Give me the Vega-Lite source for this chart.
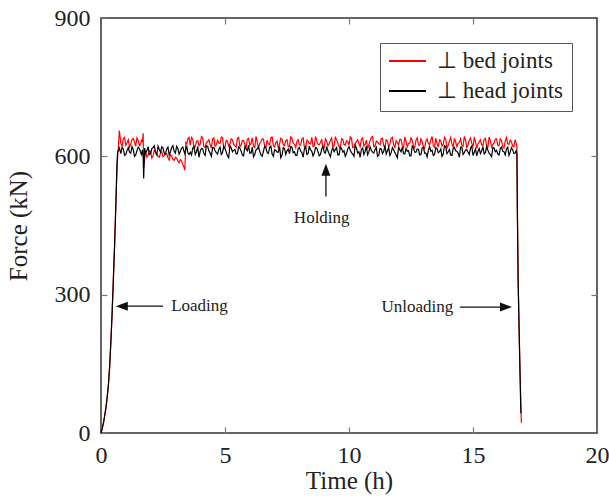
{
"$schema":"https://vega.github.io/schema/vega-lite/v6.json",
"width":496,"height":415,
"autosize":{"type":"none"},
"padding":{"left":101,"top":18,"right":12,"bottom":71},
"background":"white",
"config":{
 "font":"Liberation Serif",
 "view":{"stroke":"#333","strokeWidth":1.5},
 "axis":{"domain":false,"grid":false,"tickSize":-6,"tickColor":"#777","tickWidth":1.2,"labelFontSize":24,"labelColor":"#222","titleFontSize":25,"titleFontWeight":"normal","titleColor":"#222","labelFlush":false,"labelFont":"Liberation Serif","titleFont":"Liberation Serif"}
},
"resolve":{"axis":{"x":"independent","y":"independent"}},
"layer":[
{
 "data":{"values":[
{"t":0,"bed":0,"head":0},{"t":0.05,"bed":10,"head":10},{"t":0.1,"bed":22,"head":22},{"t":0.15,"bed":38,"head":38},{"t":0.2,"bed":55,"head":55},{"t":0.25,"bed":78,"head":78},{"t":0.3,"bed":105,"head":105},{"t":0.35,"bed":145,"head":145},{"t":0.4,"bed":200,"head":200},{"t":0.45,"bed":262,"head":262},{"t":0.5,"bed":335,"head":335},{"t":0.55,"bed":410,"head":410},{"t":0.6,"bed":500,"head":495},{"t":0.64,"bed":560,"head":580},{"t":0.67,"bed":600,"head":610},
{"t":0.7,"bed":620,"head":612},{"t":0.74,"bed":656,"head":618},{"t":0.8,"bed":628,"head":606},{"t":0.9,"bed":638,"head":616},{"t":1.0,"bed":624,"head":604},{"t":1.1,"bed":636,"head":619},{"t":1.2,"bed":626,"head":607},{"t":1.3,"bed":639,"head":615},{"t":1.4,"bed":622,"head":603},{"t":1.5,"bed":634,"head":620},{"t":1.6,"bed":627,"head":608},{"t":1.67,"bed":632,"head":614},{"t":1.7,"bed":650,"head":600},{"t":1.72,"bed":576,"head":552},{"t":1.76,"bed":596,"head":618},{"t":1.8,"bed":612,"head":607},
{"t":1.9,"bed":603,"head":621},{"t":2.0,"bed":610,"head":606},{"t":2.1,"bed":601,"head":619},{"t":2.2,"bed":609,"head":608},{"t":2.3,"bed":600,"head":622},{"t":2.4,"bed":607,"head":609},{"t":2.5,"bed":599,"head":618},{"t":2.6,"bed":606,"head":605},{"t":2.7,"bed":597,"head":620},{"t":2.8,"bed":603,"head":610},{"t":2.9,"bed":594,"head":623},{"t":3.0,"bed":598,"head":607},{"t":3.1,"bed":590,"head":617},{"t":3.2,"bed":593,"head":611},{"t":3.3,"bed":582,"head":620},{"t":3.38,"bed":570,"head":606},{"t":3.42,"bed":630,"head":616},{"t":3.5,"bed":638,"head":608},
{"t":0.85,"bed":622,"head":619},{"t":0.95,"bed":641,"head":602},{"t":1.05,"bed":629,"head":613},{"t":1.15,"bed":620,"head":609},{"t":1.25,"bed":637,"head":621},{"t":1.35,"bed":631,"head":600},{"t":1.45,"bed":640,"head":612},{"t":1.55,"bed":623,"head":617},{"t":1.63,"bed":635,"head":604},
{"t":1.85,"bed":598,"head":612},{"t":1.95,"bed":612,"head":604},{"t":2.05,"bed":596,"head":617},{"t":2.15,"bed":613,"head":623},{"t":2.25,"bed":604,"head":603},{"t":2.35,"bed":598,"head":615},{"t":2.45,"bed":610,"head":621},{"t":2.55,"bed":602,"head":607},{"t":2.65,"bed":606,"head":616},{"t":2.75,"bed":592,"head":603},{"t":2.85,"bed":600,"head":619},{"t":2.95,"bed":591,"head":611},{"t":3.05,"bed":596,"head":622},{"t":3.15,"bed":586,"head":605},{"t":3.25,"bed":590,"head":618},{"t":3.34,"bed":577,"head":612},{"t":3.46,"bed":627,"head":621},{"t":3.55,"bed":641,"head":604},
{"t":3.6,"bed":624,"head":609},{"t":3.7,"bed":637,"head":618},{"t":3.8,"bed":621,"head":604},{"t":3.9,"bed":634,"head":621},{"t":4.0,"bed":626,"head":611},{"t":4.1,"bed":640,"head":616},{"t":4.2,"bed":619,"head":602},{"t":4.3,"bed":632,"head":622},{"t":4.4,"bed":625,"head":607},{"t":4.5,"bed":638,"head":619},{"t":4.6,"bed":622,"head":612},{"t":4.7,"bed":635,"head":605},{"t":4.8,"bed":628,"head":620},{"t":4.9,"bed":641,"head":608},{"t":5.0,"bed":620,"head":617},{"t":5.1,"bed":633,"head":601},{"t":5.2,"bed":627,"head":623},{"t":5.3,"bed":636,"head":610},{"t":5.4,"bed":623,"head":615},{"t":5.5,"bed":639,"head":606},
{"t":5.6,"bed":621,"head":618},{"t":5.7,"bed":634,"head":603},{"t":5.8,"bed":626,"head":621},{"t":5.9,"bed":637,"head":612},{"t":6.0,"bed":624,"head":607},{"t":6.1,"bed":640,"head":620},{"t":6.2,"bed":619,"head":604},{"t":6.3,"bed":631,"head":616},{"t":6.4,"bed":628,"head":611},{"t":6.5,"bed":638,"head":600},{"t":6.6,"bed":622,"head":622},{"t":6.7,"bed":635,"head":608},{"t":6.8,"bed":625,"head":619},{"t":6.9,"bed":642,"head":605},{"t":7.0,"bed":620,"head":614},{"t":7.1,"bed":633,"head":609},{"t":7.2,"bed":627,"head":621},{"t":7.3,"bed":637,"head":603},{"t":7.4,"bed":623,"head":617},{"t":7.5,"bed":636,"head":612},
{"t":7.6,"bed":621,"head":606},{"t":7.7,"bed":639,"head":620},{"t":7.8,"bed":626,"head":610},{"t":7.9,"bed":632,"head":602},{"t":8.0,"bed":624,"head":619},{"t":8.1,"bed":638,"head":608},{"t":8.2,"bed":620,"head":615},{"t":8.3,"bed":635,"head":604},{"t":8.4,"bed":628,"head":622},{"t":8.5,"bed":641,"head":611},{"t":8.6,"bed":622,"head":607},{"t":8.7,"bed":634,"head":618},{"t":8.8,"bed":625,"head":601},{"t":8.9,"bed":637,"head":616},{"t":9.0,"bed":619,"head":609},{"t":9.1,"bed":633,"head":621},{"t":9.2,"bed":627,"head":605},{"t":9.3,"bed":640,"head":613},{"t":9.4,"bed":623,"head":610},{"t":9.5,"bed":636,"head":619},
{"t":9.6,"bed":621,"head":603},{"t":9.7,"bed":638,"head":617},{"t":9.8,"bed":626,"head":612},{"t":9.9,"bed":634,"head":606},{"t":10.0,"bed":624,"head":621},{"t":10.1,"bed":639,"head":608},{"t":10.2,"bed":620,"head":600},{"t":10.3,"bed":632,"head":618},{"t":10.4,"bed":628,"head":610},{"t":10.5,"bed":637,"head":615},{"t":10.6,"bed":622,"head":604},{"t":10.7,"bed":635,"head":622},{"t":10.8,"bed":625,"head":609},{"t":10.9,"bed":641,"head":613},{"t":11.0,"bed":621,"head":607},{"t":11.1,"bed":633,"head":620},{"t":11.2,"bed":627,"head":602},{"t":11.3,"bed":638,"head":616},{"t":11.4,"bed":623,"head":611},{"t":11.5,"bed":636,"head":605},
{"t":11.6,"bed":620,"head":619},{"t":11.7,"bed":639,"head":608},{"t":11.8,"bed":626,"head":614},{"t":11.9,"bed":634,"head":603},{"t":12.0,"bed":624,"head":621},{"t":12.1,"bed":637,"head":610},{"t":12.2,"bed":619,"head":606},{"t":12.3,"bed":632,"head":617},{"t":12.4,"bed":628,"head":612},{"t":12.5,"bed":640,"head":601},{"t":12.6,"bed":622,"head":618},{"t":12.7,"bed":635,"head":609},{"t":12.8,"bed":625,"head":615},{"t":12.9,"bed":638,"head":604},{"t":13.0,"bed":621,"head":620},{"t":13.1,"bed":633,"head":607},{"t":13.2,"bed":627,"head":613},{"t":13.3,"bed":636,"head":611},{"t":13.4,"bed":623,"head":602},{"t":13.5,"bed":639,"head":619},
{"t":13.6,"bed":620,"head":608},{"t":13.7,"bed":634,"head":616},{"t":13.8,"bed":626,"head":605},{"t":13.9,"bed":637,"head":621},{"t":14.0,"bed":624,"head":610},{"t":14.1,"bed":641,"head":603},{"t":14.2,"bed":619,"head":617},{"t":14.3,"bed":632,"head":612},{"t":14.4,"bed":628,"head":607},{"t":14.5,"bed":638,"head":620},{"t":14.6,"bed":622,"head":604},{"t":14.7,"bed":635,"head":614},{"t":14.8,"bed":625,"head":609},{"t":14.9,"bed":640,"head":618},{"t":15.0,"bed":621,"head":602},{"t":15.1,"bed":633,"head":616},{"t":15.2,"bed":627,"head":611},{"t":15.3,"bed":636,"head":606},{"t":15.4,"bed":623,"head":621},{"t":15.5,"bed":639,"head":608},
{"t":15.6,"bed":620,"head":613},{"t":15.7,"bed":634,"head":604},{"t":15.8,"bed":626,"head":619},{"t":15.9,"bed":637,"head":610},{"t":16.0,"bed":624,"head":605},{"t":16.1,"bed":638,"head":617},{"t":16.2,"bed":621,"head":611},{"t":16.3,"bed":633,"head":603},{"t":16.4,"bed":627,"head":620},{"t":16.5,"bed":635,"head":609},{"t":16.6,"bed":622,"head":614},{"t":16.7,"bed":636,"head":607},
{"t":3.65,"bed":641,"head":603},{"t":3.75,"bed":619,"head":621},{"t":3.85,"bed":633,"head":610},{"t":3.95,"bed":623,"head":598},{"t":4.05,"bed":643,"head":617},{"t":4.15,"bed":621,"head":606},{"t":4.25,"bed":630,"head":623},{"t":4.35,"bed":636,"head":612},{"t":4.45,"bed":618,"head":600},{"t":4.55,"bed":640,"head":619},{"t":4.65,"bed":625,"head":608},{"t":4.75,"bed":629,"head":615},{"t":4.85,"bed":642,"head":604},{"t":4.95,"bed":617,"head":622},{"t":5.05,"bed":635,"head":609},{"t":5.15,"bed":622,"head":597},{"t":5.25,"bed":638,"head":618},{"t":5.35,"bed":626,"head":613},{"t":5.45,"bed":620,"head":605},{"t":5.55,"bed":641,"head":620},
{"t":5.65,"bed":624,"head":611},{"t":5.75,"bed":634,"head":601},{"t":5.85,"bed":619,"head":616},{"t":5.95,"bed":639,"head":624},{"t":6.05,"bed":628,"head":607},{"t":6.15,"bed":622,"head":599},{"t":6.25,"bed":643,"head":614},{"t":6.35,"bed":618,"head":620},{"t":6.45,"bed":632,"head":603},{"t":6.55,"bed":637,"head":611},{"t":6.65,"bed":620,"head":618},{"t":6.75,"bed":627,"head":606},{"t":6.85,"bed":641,"head":622},{"t":6.95,"bed":623,"head":600},{"t":7.05,"bed":630,"head":613},{"t":7.15,"bed":617,"head":609},{"t":7.25,"bed":639,"head":597},{"t":7.35,"bed":625,"head":619},{"t":7.45,"bed":634,"head":604},{"t":7.55,"bed":621,"head":616},
{"t":7.65,"bed":642,"head":621},{"t":7.75,"bed":628,"head":608},{"t":7.85,"bed":619,"head":602},{"t":7.95,"bed":636,"head":617},{"t":8.05,"bed":624,"head":611},{"t":8.15,"bed":640,"head":598},{"t":8.25,"bed":618,"head":623},{"t":8.35,"bed":633,"head":606},{"t":8.45,"bed":627,"head":614},{"t":8.55,"bed":621,"head":601},{"t":8.65,"bed":643,"head":619},{"t":8.75,"bed":626,"head":610},{"t":8.85,"bed":630,"head":604},{"t":8.95,"bed":617,"head":622},{"t":9.05,"bed":638,"head":607},{"t":9.15,"bed":623,"head":612},{"t":9.25,"bed":635,"head":599},{"t":9.35,"bed":620,"head":618},{"t":9.45,"bed":641,"head":615},{"t":9.55,"bed":629,"head":603},
{"t":9.65,"bed":618,"head":620},{"t":9.75,"bed":637,"head":609},{"t":9.85,"bed":624,"head":600},{"t":9.95,"bed":632,"head":616},{"t":10.05,"bed":642,"head":613},{"t":10.15,"bed":619,"head":605},{"t":10.25,"bed":628,"head":624},{"t":10.35,"bed":636,"head":607},{"t":10.45,"bed":621,"head":598},{"t":10.55,"bed":640,"head":618},{"t":10.65,"bed":626,"head":611},{"t":10.75,"bed":617,"head":603},{"t":10.85,"bed":634,"head":621},{"t":10.95,"bed":643,"head":609},{"t":11.05,"bed":622,"head":615},{"t":11.15,"bed":631,"head":600},{"t":11.25,"bed":625,"head":617},{"t":11.35,"bed":639,"head":606},{"t":11.45,"bed":620,"head":623},{"t":11.55,"bed":633,"head":612},
{"t":11.65,"bed":627,"head":602},{"t":11.75,"bed":641,"head":619},{"t":11.85,"bed":618,"head":608},{"t":11.95,"bed":630,"head":597},{"t":12.05,"bed":637,"head":614},{"t":12.15,"bed":623,"head":620},{"t":12.25,"bed":642,"head":605},{"t":12.35,"bed":621,"head":611},{"t":12.45,"bed":629,"head":601},{"t":12.55,"bed":635,"head":622},{"t":12.65,"bed":619,"head":609},{"t":12.75,"bed":640,"head":616},{"t":12.85,"bed":624,"head":603},{"t":12.95,"bed":632,"head":618},{"t":13.05,"bed":617,"head":607},{"t":13.15,"bed":638,"head":599},{"t":13.25,"bed":626,"head":621},{"t":13.35,"bed":643,"head":613},{"t":13.45,"bed":620,"head":604},{"t":13.55,"bed":628,"head":617},
{"t":13.65,"bed":636,"head":610},{"t":13.75,"bed":622,"head":600},{"t":13.85,"bed":641,"head":623},{"t":13.95,"bed":618,"head":606},{"t":14.05,"bed":633,"head":615},{"t":14.15,"bed":627,"head":602},{"t":14.25,"bed":639,"head":619},{"t":14.35,"bed":621,"head":611},{"t":14.45,"bed":630,"head":598},{"t":14.55,"bed":624,"head":620},{"t":14.65,"bed":643,"head":608},{"t":14.75,"bed":619,"head":614},{"t":14.85,"bed":635,"head":604},{"t":14.95,"bed":628,"head":622},{"t":15.05,"bed":640,"head":609},{"t":15.15,"bed":617,"head":601},{"t":15.25,"bed":632,"head":617},{"t":15.35,"bed":625,"head":612},{"t":15.45,"bed":637,"head":605},{"t":15.55,"bed":622,"head":621},
{"t":15.65,"bed":642,"head":607},{"t":15.75,"bed":620,"head":599},{"t":15.85,"bed":629,"head":618},{"t":15.95,"bed":638,"head":613},{"t":16.05,"bed":623,"head":603},{"t":16.15,"bed":634,"head":620},{"t":16.25,"bed":618,"head":610},{"t":16.35,"bed":641,"head":616},{"t":16.45,"bed":626,"head":602},{"t":16.55,"bed":631,"head":619},{"t":16.65,"bed":621,"head":606},
{"t":16.74,"bed":628,"head":612},{"t":16.77,"bed":621,"head":606},{"t":16.79,"bed":480,"head":480},{"t":16.82,"bed":331,"head":331},{"t":16.88,"bed":170,"head":170},{"t":16.93,"bed":60,"head":43},{"t":16.95,"bed":22}
 ]},
 "transform":[{"fold":["bed","head"],"as":["series","force"]}],
 "mark":{"type":"line","strokeWidth":1.2},
 "encoding":{
  "x":{"field":"t","type":"quantitative","scale":{"domain":[0,20],"nice":false,"zero":false},"axis":{"orient":"bottom","values":[0,5,10,15,20],"title":"Time (h)","labelPadding":16,"titlePadding":1}},
  "y":{"field":"force","type":"quantitative","scale":{"domain":[0,900],"nice":false},"axis":{"orient":"left","values":[0,300,600,900],"title":"Force (kN)","labelPadding":17,"titlePadding":23}},
  "color":{"field":"series","type":"nominal","scale":{"domain":["bed","head"],"range":["#ff0000","#000000"]},
   "legend":{"orient":"none","legendX":279,"legendY":25,"title":null,"labelExpr":"datum.value == 'bed' ? '⊥ bed joints' : '⊥ head joints'","symbolType":"stroke","symbolSize":1369,"symbolStrokeWidth":2,"labelFontSize":23,"labelFont":"Liberation Serif","labelColor":"#222","strokeColor":"#555","fillColor":"white","padding":8,"clipHeight":20,"rowPadding":7,"labelOffset":10}}
 }
},
{
 "data":{"values":[{"t":3.97,"f":275,"label":"Loading"},{"t":8.9,"f":467,"label":"Holding"},{"t":12.76,"f":273,"label":"Unloading"}]},
 "mark":{"type":"text","fontSize":17,"font":"Liberation Serif","color":"#222","align":"center","baseline":"middle"},
 "encoding":{
  "x":{"field":"t","type":"quantitative","axis":{"orient":"top","values":[5,10,15],"labels":false,"title":null}},
  "y":{"field":"f","type":"quantitative","axis":{"orient":"right","values":[300,600],"labels":false,"title":null}},
  "text":{"field":"label"}
 }
},
{
 "data":{"values":[{"t":0.84,"f":275,"t2":2.5,"f2":275},{"t":9.07,"f":513,"t2":9.07,"f2":571},{"t":14.48,"f":273,"t2":16.33,"f2":273}]},
 "mark":{"type":"rule","color":"#111","strokeWidth":1.3},
 "encoding":{
  "x":{"field":"t","type":"quantitative","axis":null},
  "y":{"field":"f","type":"quantitative","axis":null},
  "x2":{"field":"t2"},
  "y2":{"field":"f2"}
 }
},
{
 "data":{"values":[{"t":0.84,"f":275,"ang":0},{"t":9.07,"f":571,"ang":90},{"t":16.33,"f":273,"ang":180}]},
 "mark":{"type":"point","shape":"M -1 0 L 1 -0.75 L 1 0.75 Z","filled":true,"color":"#111","opacity":1,"size":144},
 "encoding":{
  "x":{"field":"t","type":"quantitative","axis":null},
  "y":{"field":"f","type":"quantitative","axis":null},
  "angle":{"field":"ang","type":"quantitative","scale":null}
 }
}
]
}
